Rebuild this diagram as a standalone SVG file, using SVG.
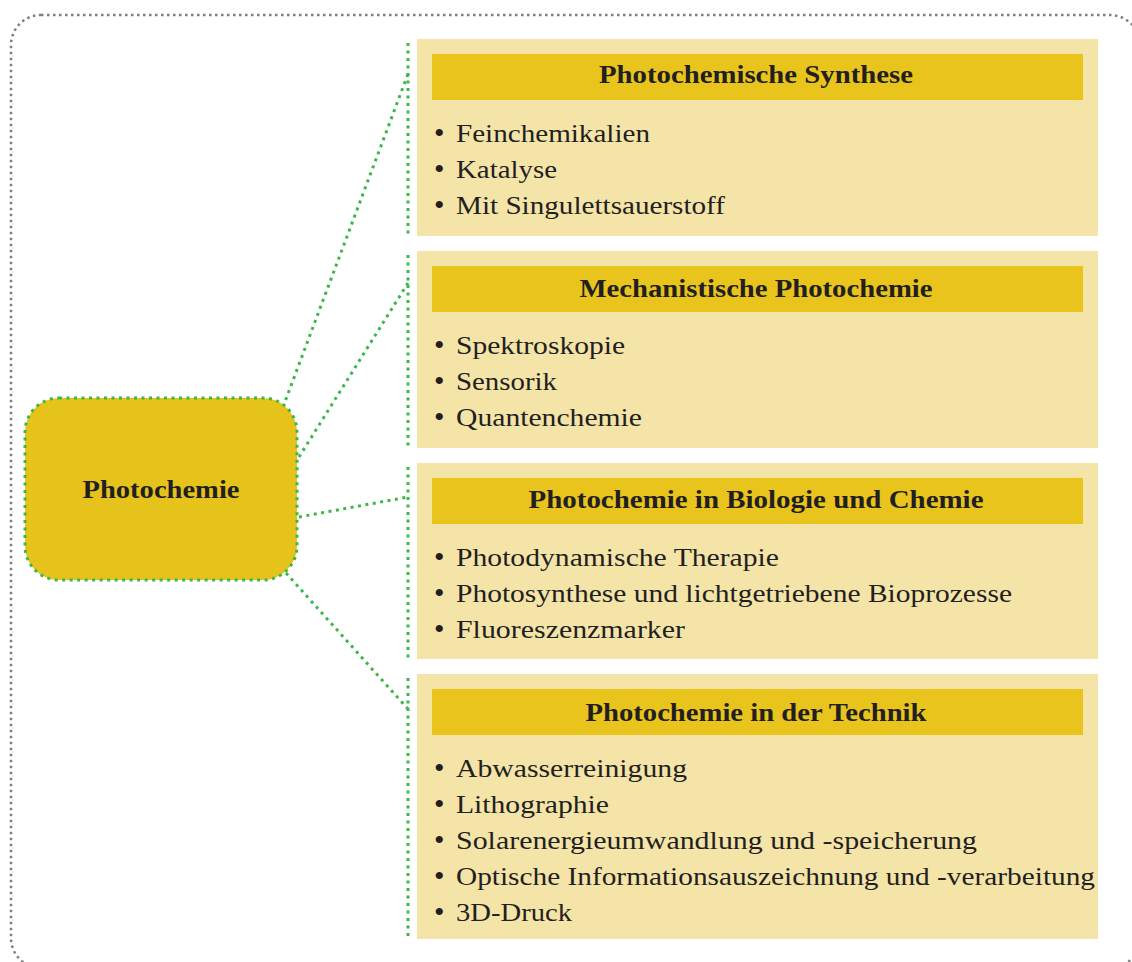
<svg xmlns="http://www.w3.org/2000/svg" width="1132" height="962" viewBox="0 0 1132 962">
<style>
.outer{fill:none;stroke:#7f7f7f;stroke-width:2.5;stroke-dasharray:2.5 3.5}
.conn{fill:none;stroke:#3cb84a;stroke-width:3;stroke-dasharray:3 4.5}
.panel{fill:#f4e4a8}
.head{fill:#e8c41c}
.ht{font-family:"Liberation Serif","DejaVu Serif",serif;font-weight:bold;font-size:25.5px;fill:#231f20;text-anchor:middle}
.it{font-family:"Liberation Serif","DejaVu Serif",serif;font-size:25.5px;fill:#231f20}
.bu{font-family:"Liberation Serif","DejaVu Serif",serif;font-size:30px;fill:#231f20}
.core{fill:#e6c31b;stroke:#3cb84a;stroke-width:3;stroke-dasharray:3 4.5}
</style>
<rect class="outer" x="11" y="15" width="1129" height="953" rx="30"/>
<g id="connectors">
<line class="conn" x1="283" y1="407" x2="408" y2="74"/>
<line class="conn" x1="299" y1="457" x2="408" y2="283"/>
<line class="conn" x1="299" y1="517" x2="408" y2="497"/>
<line class="conn" x1="286" y1="573" x2="408" y2="709"/>
<line class="conn" x1="408" y1="43" x2="408" y2="236"/>
<line class="conn" x1="408" y1="255" x2="408" y2="448"/>
<line class="conn" x1="408" y1="467" x2="408" y2="659"/>
<line class="conn" x1="408" y1="678" x2="408" y2="939"/>
</g>
<g id="photochemie">
<rect class="core" x="25" y="398" width="272" height="182" rx="34"/>
<text class="ht" x="161" y="498" textLength="157" lengthAdjust="spacingAndGlyphs">Photochemie</text>
</g>
<g id="synthese">
<rect class="panel" x="417" y="39" width="681" height="197"/>
<rect class="head" x="432" y="54" width="651" height="46"/>
<text class="ht" x="756" y="83" textLength="314" lengthAdjust="spacingAndGlyphs">Photochemische Synthese</text>
<text class="bu" x="434" y="143">•</text><text class="it" x="456" y="142" textLength="194" lengthAdjust="spacingAndGlyphs">Feinchemikalien</text>
<text class="bu" x="434" y="179">•</text><text class="it" x="456" y="178" textLength="101" lengthAdjust="spacingAndGlyphs">Katalyse</text>
<text class="bu" x="434" y="215">•</text><text class="it" x="456" y="214" textLength="269" lengthAdjust="spacingAndGlyphs">Mit Singulettsauerstoff</text>
</g>
<g id="mechanistische">
<rect class="panel" x="417" y="251" width="681" height="197"/>
<rect class="head" x="432" y="266" width="651" height="46"/>
<text class="ht" x="756" y="297" textLength="353" lengthAdjust="spacingAndGlyphs">Mechanistische Photochemie</text>
<text class="bu" x="434" y="355">•</text><text class="it" x="456" y="354" textLength="169" lengthAdjust="spacingAndGlyphs">Spektroskopie</text>
<text class="bu" x="434" y="391">•</text><text class="it" x="456" y="390" textLength="101" lengthAdjust="spacingAndGlyphs">Sensorik</text>
<text class="bu" x="434" y="427">•</text><text class="it" x="456" y="426" textLength="186" lengthAdjust="spacingAndGlyphs">Quantenchemie</text>
</g>
<g id="biologie">
<rect class="panel" x="417" y="463" width="681" height="196"/>
<rect class="head" x="432" y="478" width="651" height="46"/>
<text class="ht" x="756" y="508" textLength="455" lengthAdjust="spacingAndGlyphs">Photochemie in Biologie und Chemie</text>
<text class="bu" x="434" y="567">•</text><text class="it" x="456" y="566" textLength="323" lengthAdjust="spacingAndGlyphs">Photodynamische Therapie</text>
<text class="bu" x="434" y="603">•</text><text class="it" x="456" y="602" textLength="556" lengthAdjust="spacingAndGlyphs">Photosynthese und lichtgetriebene Bioprozesse</text>
<text class="bu" x="434" y="639">•</text><text class="it" x="456" y="638" textLength="229" lengthAdjust="spacingAndGlyphs">Fluoreszenzmarker</text>
</g>
<g id="technik">
<rect class="panel" x="417" y="674" width="681" height="265"/>
<rect class="head" x="432" y="689" width="651" height="46"/>
<text class="ht" x="756" y="721" textLength="341" lengthAdjust="spacingAndGlyphs">Photochemie in der Technik</text>
<text class="bu" x="434" y="778">•</text><text class="it" x="456" y="777" textLength="231" lengthAdjust="spacingAndGlyphs">Abwasserreinigung</text>
<text class="bu" x="434" y="814">•</text><text class="it" x="456" y="813" textLength="153" lengthAdjust="spacingAndGlyphs">Lithographie</text>
<text class="bu" x="434" y="850">•</text><text class="it" x="456" y="849" textLength="521" lengthAdjust="spacingAndGlyphs">Solarenergieumwandlung und -speicherung</text>
<text class="bu" x="434" y="886">•</text><text class="it" x="456" y="885" textLength="639" lengthAdjust="spacingAndGlyphs">Optische Informationsauszeichnung und -verarbeitung</text>
<text class="bu" x="434" y="922">•</text><text class="it" x="456" y="921" textLength="116" lengthAdjust="spacingAndGlyphs">3D-Druck</text>
</g>
</svg>
